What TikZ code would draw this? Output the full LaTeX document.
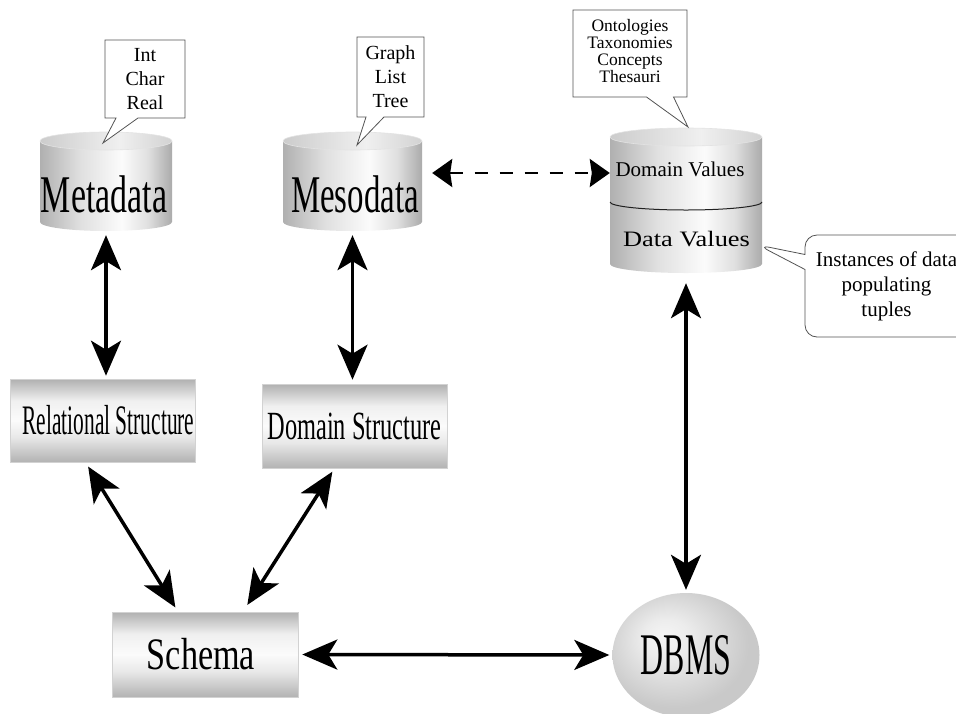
\documentclass[tikz,border=0pt]{standalone}
\usepackage{fontspec}
\usepackage{graphicx}
\setmainfont{Liberation Serif}
\usetikzlibrary{arrows.meta,shapes.geometric,shapes.callouts}

% metallic gradients
\pgfdeclarehorizontalshading{cylbody}{100bp}{color(0bp)=(gray!62); color(25bp)=(gray!62); color(40bp)=(gray!25); color(56bp)=(gray!3); color(66bp)=(gray!25); color(75bp)=(gray!66); color(100bp)=(gray!66)}
\pgfdeclarehorizontalshading{cyltop}{100bp}{color(0bp)=(gray!40); color(25bp)=(gray!40); color(55bp)=(gray!12); color(75bp)=(gray!35); color(100bp)=(gray!35)}
\pgfdeclareverticalshading{boxshade}{100bp}{color(0bp)=(gray!60); color(25bp)=(gray!60); color(40bp)=(gray!18); color(50bp)=(gray!3); color(62bp)=(gray!12); color(75bp)=(gray!62); color(100bp)=(gray!62)}
\pgfdeclareradialshading{dbmsball}{\pgfpoint{-8bp}{8bp}}{color(0bp)=(gray!8); color(8bp)=(gray!15); color(25bp)=(gray!42); color(50bp)=(gray!42)}

% cylinder: centre x, x radius, y of top rim, y of bottom rim, y radius
\newcommand\drawcyl[5]{%
  \shade[shading=cylbody] (#1-#2,#3) -- (#1-#2,#4)
    arc[start angle=180,end angle=0,x radius=#2,y radius=#5] -- (#1+#2,#3) -- cycle;
  \shade[shading=cyltop,draw=gray!22,line width=0.6pt] (#1,#3) ellipse[x radius=#2,y radius=#5];
}

\begin{document}
\begin{tikzpicture}[x=1pt,y=-1pt,
  biarrow/.style={line width=3.5pt,
    {Stealth[length=35pt,width=30pt,inset=9pt]}-{Stealth[length=35pt,width=30pt,inset=9pt]}},
  dasharrow/.style={line width=2.5pt,dash pattern=on 13pt off 12pt,
    {Stealth[length=20pt,width=28pt,inset=2pt]}-{Stealth[length=20pt,width=28pt,inset=2pt]}},
  shadedbox/.style={rectangle,shade,shading=boxshade,draw=gray!35,line width=0.6pt,inner sep=0pt},
  hidden/.style={rectangle,inner sep=0pt},
  note/.style={rectangle callout,draw=gray!65!black,fill=white,line width=0.8pt,inner sep=0pt,align=center},
]
\useasboundingbox (0,0) rectangle (956,713);
\clip (0,0) rectangle (956,713);

% storage cylinders
\drawcyl{106}{66}{141}{222}{9}
\drawcyl{352.5}{69.5}{141}{222}{9}
\drawcyl{686}{76}{137}{264}{9}
\draw[gray!25!black,line width=1pt] (610,202) arc[start angle=180,end angle=0,x radius=76,y radius=8];

\node[hidden,minimum width=132pt,minimum height=99pt] (meta) at (106,181.5) {};
\node[hidden,minimum width=139pt,minimum height=99pt] (meso) at (352.5,181.5) {};
\node[hidden,minimum width=152pt,minimum height=145pt] (vals) at (686,200.5) {};

\node[font=\fontsize{53}{60}\selectfont,inner sep=0pt] (metaL) at (104,194) {\scalebox{0.64}[1]{Metadata}};
\node[font=\fontsize{53}{60}\selectfont,inner sep=0pt] (mesoL) at (355,194) {\scalebox{0.62}[1]{Mesodata}};
\node[font=\fontsize{21}{24}\selectfont,inner sep=0pt] (dvL) at (680,169) {Domain Values};
\node[font=\fontsize{22}{25}\selectfont,inner sep=0pt] (datL) at (686.5,239.5) {\scalebox{1.2}[1]{Data Values}};

% structure boxes
\node[shadedbox,minimum width=185pt,minimum height=83pt,font=\fontsize{42}{48}\selectfont] (rel) at (102.5,420.5)
  {\kern12pt\scalebox{0.51}[1]{Relational Structure}};
\node[shadedbox,minimum width=185pt,minimum height=84pt,font=\fontsize{40}{46}\selectfont] (dom) at (354.5,426)
  {\scalebox{0.61}[1]{Domain Structure}};
\node[shadedbox,minimum width=186pt,minimum height=85pt,font=\fontsize{45}{50}\selectfont] (schema) at (205,654.5)
  {\kern-8pt\scalebox{0.76}[1]{Schema}};
\node[ellipse,shade,shading=dbmsball,minimum width=147pt,minimum height=124pt,inner sep=0pt,
  font=\fontsize{59}{64}\selectfont] (dbms) at (686,655) {\raisebox{-5pt}{\scalebox{0.54}[1]{DBMS}}};

% callouts
\node[note,minimum width=80pt,minimum height=78pt,callout absolute pointer={(103,143)},
  callout pointer width=22pt,font=\fontsize{20}{24}\selectfont] (intnote) at (145,79) {Int\\Char\\Real};
\node[note,minimum width=67pt,minimum height=80pt,callout absolute pointer={(357,145)},
  callout pointer width=18pt,font=\fontsize{20}{24}\selectfont] (graphnote) at (390.5,77) {Graph\\List\\Tree};
\node[note,minimum width=114pt,minimum height=87pt,callout absolute pointer={(688,127)},
  callout pointer width=27pt,font=\fontsize{17.5}{17}\selectfont] (ontonote) at (630,53.5)
  {\raisebox{14pt}{\begin{tabular}{@{}c@{}}Ontologies\\Taxonomies\\Concepts\\Thesauri\end{tabular}}};
\node[note,rounded corners=12pt,minimum width=163pt,minimum height=102pt,callout absolute pointer={(758,245)},
  callout pointer width=15pt,font=\fontsize{21}{25}\selectfont] (instnote) at (886.5,286)
  {Instances of data\\populating\\tuples};

% connectors
\draw[biarrow,shorten <=4pt,shorten >=3pt] (meta.south) -- (meta.south |- rel.north);
\draw[biarrow,shorten <=4pt,shorten >=4pt] (meso.south) -- (meso.south |- dom.north);
\draw[dasharrow,shorten <=10pt,shorten >=0pt] (meso.east |- 0,173) -- (vals.west |- 0,173);
\draw[biarrow,shorten <=10pt,shorten >=3pt] (vals.south) -- (dbms.north);
\draw[biarrow,shorten <=5pt,shorten >=5pt] ([xshift=-17pt]rel.south) -- ([xshift=-27pt]schema.north);
\draw[biarrow,shorten <=4pt,shorten >=8pt] ([xshift=-20pt]dom.south) -- ([xshift=38pt]schema.north);
\draw[biarrow,shorten <=4pt,shorten >=3pt] (schema.east) -- (dbms.west);
\end{tikzpicture}
\end{document}
